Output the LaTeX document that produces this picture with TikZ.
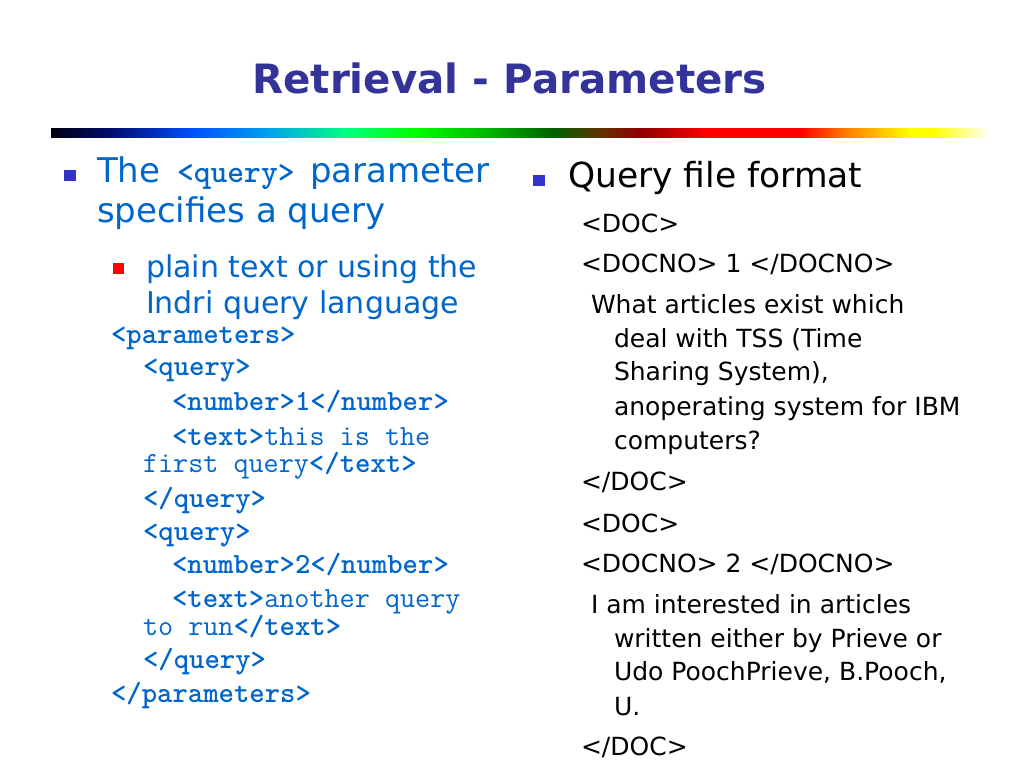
\documentclass[tikz,border=0pt]{standalone}
\usepackage{fontspec}
\setmainfont{DejaVu Sans}
\definecolor{txtblue}{HTML}{0066CC}
\definecolor{titleblue}{HTML}{333399}
\definecolor{bulblue}{HTML}{3333CC}
\definecolor{bulred}{HTML}{FF0000}
\pgfdeclarehorizontalshading{rainbowbar}{100bp}{%
 rgb(0bp)=(0,0,0.06);
 rgb(25bp)=(0,0,0.06);
 rgb(28.15bp)=(0,0.05,0.42);
 rgb(32.55bp)=(0,0.31,1);
 rgb(36.5bp)=(0,0.63,0.94);
 rgb(40.75bp)=(0,1,0.5);
 rgb(44.3bp)=(0,1,0);
 rgb(47.85bp)=(0,0.75,0);
 rgb(51.75bp)=(0,0.38,0);
 rgb(54.25bp)=(0.38,0.19,0);
 rgb(56.35bp)=(0.56,0,0);
 rgb(59.95bp)=(1,0,0);
 rgb(64.9bp)=(1,0,0);
 rgb(67.4bp)=(1,0.5,0);
 rgb(70.75bp)=(1,1,0);
 rgb(71.95bp)=(1,1,0);
 rgb(75bp)=(1,1,1);
 rgb(100bp)=(1,1,1)}
\tikzset{
 ttl/.style={font=\fontsize{40.4}{48}\selectfont\bfseries, text=titleblue, anchor=base},
 lone/.style={font=\fontsize{34}{40}\selectfont, text=txtblue},
 ltwo/.style={font=\fontsize{30}{36}\selectfont, text=txtblue},
 icode/.style={font=\fontsize{32}{36}\selectfont\ttfamily\bfseries, text=txtblue},
 code/.style={font=\fontsize{29.3}{34}\selectfont\ttfamily, text=txtblue},
 rone/.style={font=\fontsize{34.5}{40}\selectfont, text=black},
 rtwo/.style={font=\fontsize{25}{30}\selectfont, text=black},
}
\begin{document}
\begin{tikzpicture}[x=1pt,y=-1pt,
  every node/.style={inner sep=0pt, outer sep=0pt, anchor=base west}]
\useasboundingbox (0,0) rectangle (1024,768);
\fill[white] (0,0) rectangle (1024,768);
% title
\node[ttl] (title) at (509.5,93) {Retrieval - Parameters};
\shade[shading=rainbowbar] (51,128) rectangle (990,137);
% left column
\fill[bulblue] (64,170) rectangle (76,181);
\node[lone] (l1a) at (97,182) {The};
\node[icode] (l1b) at (177,182) {<query>};
\node[lone] (l1c) at (310,182) {parameter};
\node[lone] (l2) at (97,222) {specifies a query};
\fill[bulred] (113,263) rectangle (124,274);
\node[ltwo] (l3) at (146,277) {plain text or using the};
\node[ltwo] (l4) at (146,313) {Indri query language};
% code
\node[code] (c1) at (111,343) {\textbf{<parameters>}};
\node[code] (c2) at (143,375) {\textbf{<query>}};
\node[code] (c3) at (172,410) {\textbf{<number>1</number>}};
\node[code] (c4) at (172,445) {\textbf{<text>}this is the};
\node[code] (c5) at (143,472) {first query\textbf{</text>}};
\node[code] (c6) at (143,507) {\textbf{</query>}};
\node[code] (c7) at (143,540) {\textbf{<query>}};
\node[code] (c8) at (172,573) {\textbf{<number>2</number>}};
\node[code] (c9) at (172,607) {\textbf{<text>}another query};
\node[code] (c10) at (143,635) {to run\textbf{</text>}};
\node[code] (c11) at (143,668) {\textbf{</query>}};
\node[code] (c12) at (111,702) {\textbf{</parameters>}};
% right column
\fill[bulblue] (533,175) rectangle (545,186);
\node[rone] (r0) at (568,187) {Query file format};
\node[rtwo] (r1) at (581,232) {<DOC>};
\node[rtwo] (r2) at (581,272) {<DOCNO> 1 </DOCNO>};
\node[rtwo] (r3) at (591,313) {What articles exist which};
\node[rtwo] (r4) at (614,347) {deal with TSS (Time};
\node[rtwo] (r5) at (614,380) {Sharing System),};
\node[rtwo] (r6) at (614,415) {anoperating system for IBM};
\node[rtwo] (r7) at (614,449) {computers?};
\node[rtwo] (r8) at (581,490) {</DOC>};
\node[rtwo] (r9) at (581,532) {<DOC>};
\node[rtwo] (r10) at (581,572) {<DOCNO> 2 </DOCNO>};
\node[rtwo] (r11) at (591,613) {I am interested in articles};
\node[rtwo] (r12) at (614,647) {written either by Prieve or};
\node[rtwo] (r13) at (614,680) {Udo PoochPrieve, B.Pooch,};
\node[rtwo] (r14) at (614,715) {U.};
\node[rtwo] (r15) at (581,755) {</DOC>};
\end{tikzpicture}
\end{document}
